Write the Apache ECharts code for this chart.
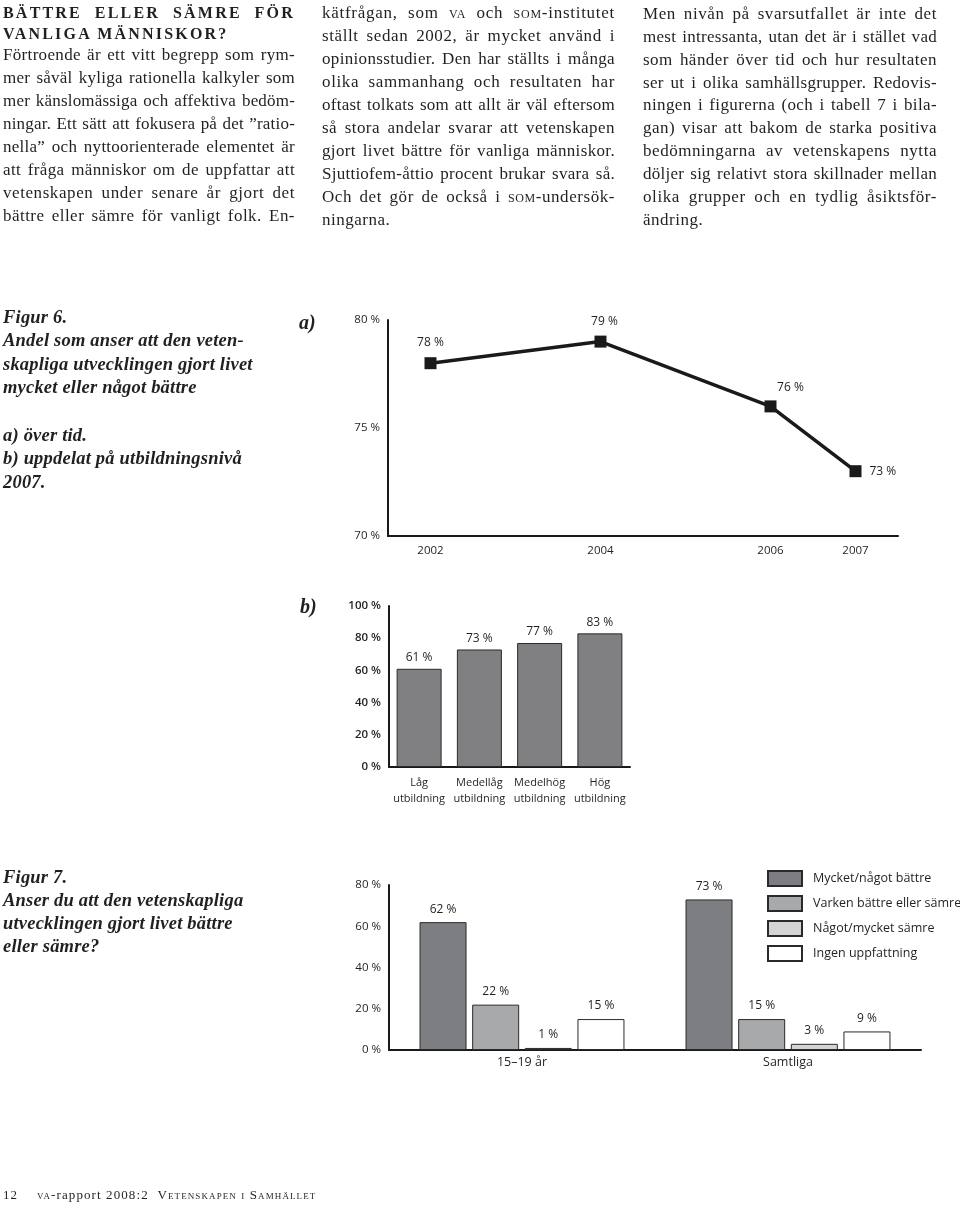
<!DOCTYPE html>
<html><head><meta charset="utf-8">
<script src="https://cdn.jsdelivr.net/npm/echarts@6/dist/echarts.min.js"></script>
<style>
html,body{margin:0;padding:0;background:#fff;}
#page{position:relative;width:960px;height:1206px;overflow:hidden;background:#fff;}
#chart{position:absolute;left:0;top:0;width:960px;height:1206px;}
.ln{position:absolute;white-space:nowrap;font-family:"Liberation Serif","DejaVu Serif",serif;color:#231f20;font-size:17px;line-height:23px;height:23px;}
.hd{font-weight:bold;font-size:16px;letter-spacing:2.2px;line-height:21px;height:21px;}
.cap{font-weight:bold;font-style:italic;font-size:18.5px;letter-spacing:0.2px;}
.lab{font-weight:bold;font-style:italic;font-size:20px;}
.ft{font-size:13px;line-height:14px;height:14px;letter-spacing:1.1px;}
.sc{font-variant:small-caps;}
</style>
</head><body>
<div id="page"><div id="chart"></div><div id="txt"></div></div>
<script>
// ---------- data ----------
const fig6aYears = [2002, 2004, 2006, 2007];
const fig6aValues = [78, 79, 76, 73];
const fig6bCategories = ['Låg\nutbildning', 'Medellåg\nutbildning', 'Medelhög\nutbildning', 'Hög\nutbildning'];
const fig6bValues = [61, 73, 77, 83];
const fig7Categories = ['15–19 år', 'Samtliga'];
const fig7SeriesNames = ['Mycket/något bättre', 'Varken bättre eller sämre', 'Något/mycket sämre', 'Ingen uppfattning'];
const fig7Better = [62, 73];
const fig7Neither = [22, 15];
const fig7Worse = [1, 3];
const fig7NoOpinion = [15, 9];

// ---------- page text ----------
const col1Head = ['BÄTTRE ELLER SÄMRE FÖR', 'VANLIGA MÄNNISKOR?'];
const col1Body = [
 'Förtroende är ett vitt begrepp som rym-',
 'mer såväl kyliga rationella kalkyler som',
 'mer känslomässiga och affektiva bedöm-',
 'ningar. Ett sätt att fokusera på det ”ratio-',
 'nella” och nyttoorienterade elementet är',
 'att fråga människor om de uppfattar att',
 'vetenskapen under senare år gjort det',
 'bättre eller sämre för vanligt folk. En-'
];
const col2Body = [
 'kätfrågan, som <span class="sc">va</span> och <span class="sc">som</span>-institutet',
 'ställt sedan 2002, är mycket använd i',
 'opinionsstudier. Den har ställts i många',
 'olika sammanhang och resultaten har',
 'oftast tolkats som att allt är väl eftersom',
 'så stora andelar svarar att vetenskapen',
 'gjort livet bättre för vanliga människor.',
 'Sjuttiofem-åttio procent brukar svara så.',
 'Och det gör de också i <span class="sc">som</span>-undersök-',
 'ningarna.'
];
const col3Body = [
 'Men nivån på svarsutfallet är inte det',
 'mest intressanta, utan det är i stället vad',
 'som händer över tid och hur resultaten',
 'ser ut i olika samhällsgrupper. Redovis-',
 'ningen i figurerna (och i tabell 7 i bila-',
 'gan) visar att bakom de starka positiva',
 'bedömningarna av vetenskapens nytta',
 'döljer sig relativt stora skillnader mellan',
 'olika grupper och en tydlig åsiktsför-',
 'ändring.'
];
const fig6Caption = ['Figur 6.', 'Andel som anser att den veten-', 'skapliga utvecklingen gjort livet', 'mycket eller något bättre', '', 'a) över tid.', 'b) uppdelat på utbildningsnivå', '2007.'];
const fig7Caption = ['Figur 7.', 'Anser du att den vetenskapliga', 'utvecklingen gjort livet bättre', 'eller sämre?'];

const txt = document.getElementById('txt');
function addLine(html, left, top, cls, justifyW, body) {
  const d = document.createElement('div');
  d.className = 'ln ' + (cls || '');
  d.style.left = left + 'px';
  d.style.top = top + 'px';
  d.innerHTML = '<span>' + html + '</span>';
  txt.appendChild(d);
  const sp = d.firstChild;
  if (body) {
    const text = sp.textContent;
    const nChars = text.length;
    if (justifyW) {
      const w0 = sp.getBoundingClientRect().width;
      let ls = (justifyW - w0) * 0.55 / nChars;
      ls = Math.max(-0.3, Math.min(1.1, ls));
      d.style.letterSpacing = ls + 'px';
    } else {
      d.style.letterSpacing = '0.5px';
    }
  }
  if (justifyW) {
    const w = sp.getBoundingClientRect().width;
    const n = (sp.textContent.match(/ /g) || []).length;
    if (n > 0) d.style.wordSpacing = ((justifyW - w) / n) + 'px';
  }
  return d;
}
addLine(col1Head[0], 3, 2, 'hd', 292);
addLine(col1Head[1], 3, 22.5, 'hd', 0);
col1Body.forEach((s, i) => addLine(s, 3, 42.5 + 23 * i, '', 292, true));
col2Body.forEach((s, i) => addLine(s, 322, 0.5 + 23 * i, '', i < col2Body.length - 1 ? 293 : 0, true));
col3Body.forEach((s, i) => addLine(s, 643, 1.8 + 22.9 * i, '', i < col3Body.length - 1 ? 294 : 0, true));
fig6Caption.forEach((s, i) => { if (s) addLine(s, 3, 305.5 + 23.6 * i, 'cap', 0); });
fig7Caption.forEach((s, i) => addLine(s, 3, 865.5 + 23 * i, 'cap', 0));
addLine('a)', 299, 311, 'lab', 0);
addLine('b)', 300, 595, 'lab', 0);
addLine('12', 3, 1188, 'ft', 0);
addLine('<span class="sc">va</span>-rapport 2008:2&nbsp;&nbsp;<span class="sc">Vetenskapen i Samhället</span>', 37, 1188, 'ft', 0);

// ---------- chart ----------
const INK = '#1a1a1a';
const TXT = '#231f20';
const SANS = '"Open Sans","Noto Sans",sans-serif';
const axisLineStyle = { show: true, onZero: false, lineStyle: { color: INK, width: 2 } };

// label placement styles for figure 6a points
const fig6aLabelStyles = [
  { position: 'top', distance: 9 },
  { position: 'top', distance: 8, offset: [4, 0] },
  { position: 'top', distance: 7, offset: [20, 0] },
  { position: 'right', distance: 8 }
];
const fig6aData = fig6aYears.map((y, i) => ({ value: [y, fig6aValues[i]], label: fig6aLabelStyles[i] }));

const fig7Colors = ['#7d7e81', '#a8a9ab', '#d4d4d6', '#ffffff'];
const fig7Values = [fig7Better, fig7Neither, fig7Worse, fig7NoOpinion];

const chart = echarts.init(document.getElementById('chart'), null, { renderer: 'canvas' });
chart.setOption({
  animation: false,
  textStyle: { fontFamily: SANS, color: TXT },
  grid: [
    { left: 388, top: 320, width: 510, height: 216 },
    { left: 389, top: 606, width: 241, height: 161 },
    { left: 389, top: 885, width: 532, height: 165 }
  ],
  xAxis: [
    { gridIndex: 0, type: 'value', min: 2001.5, max: 2007.5,
      axisLine: axisLineStyle, axisTick: { show: false }, splitLine: { show: false },
      axisLabel: { customValues: fig6aYears, formatter: v => String(v), margin: 9, fontSize: 11.5, color: TXT, fontFamily: SANS } },
    { gridIndex: 1, type: 'category', data: fig6bCategories,
      axisLine: axisLineStyle, axisTick: { show: false },
      axisLabel: { margin: 8, fontSize: 11, lineHeight: 16, color: TXT, fontFamily: SANS, interval: 0 } },
    { gridIndex: 2, type: 'category', data: fig7Categories,
      axisLine: axisLineStyle, axisTick: { show: false },
      axisLabel: { margin: 6, fontSize: 12.5, color: TXT, fontFamily: SANS } }
  ],
  yAxis: [
    { gridIndex: 0, type: 'value', min: 70, max: 80, interval: 5,
      axisLine: axisLineStyle, axisTick: { show: false }, splitLine: { show: false },
      axisLabel: { formatter: '{value} %', margin: 8, fontSize: 11.5, color: TXT, fontFamily: SANS, padding: [8, 0, 0, 0] } },
    { gridIndex: 1, type: 'value', min: 0, max: 100, interval: 20,
      axisLine: axisLineStyle, axisTick: { show: false }, splitLine: { show: false },
      axisLabel: { formatter: '{value} %', margin: 8, fontSize: 11.5, fontWeight: 600, color: TXT, fontFamily: SANS } },
    { gridIndex: 2, type: 'value', min: 0, max: 80, interval: 20,
      axisLine: axisLineStyle, axisTick: { show: false }, splitLine: { show: false },
      axisLabel: { formatter: '{value} %', margin: 8, fontSize: 11.5, color: TXT, fontFamily: SANS } }
  ],
  legend: {
    data: fig7SeriesNames, orient: 'vertical', left: 767, top: 870,
    itemWidth: 34, itemHeight: 15, itemGap: 8, icon: 'rect', padding: 0,
    textStyle: { fontSize: 12.5, color: TXT, fontFamily: SANS, padding: [0, 0, 0, 6] }
  },
  series: [
    { type: 'line', xAxisIndex: 0, yAxisIndex: 0, data: fig6aData,
      symbol: 'rect', symbolSize: 12, color: INK,
      lineStyle: { color: INK, width: 3.5 }, itemStyle: { color: INK },
      label: { show: true, fontSize: 12, color: TXT, fontFamily: SANS, formatter: p => p.value[1] + ' %' } },
    { type: 'bar', xAxisIndex: 1, yAxisIndex: 1, data: fig6bValues, barWidth: 45,
      itemStyle: { color: '#808083', borderColor: '#2a2a2a', borderWidth: 1 },
      label: { show: true, position: 'top', distance: 5, fontSize: 12, color: TXT, fontFamily: SANS, formatter: '{c} %' } }
  ].concat(fig7SeriesNames.map((name, i) => ({
      type: 'bar', name: name, xAxisIndex: 2, yAxisIndex: 2, data: fig7Values[i],
      barWidth: 47, barGap: '12%',
      itemStyle: { color: fig7Colors[i], borderColor: '#2a2a2a', borderWidth: 1 },
      label: { show: true, position: 'top', distance: 7, fontSize: 12, color: TXT, fontFamily: SANS, formatter: '{c} %' }
  })))
});
</script>
</body></html>
